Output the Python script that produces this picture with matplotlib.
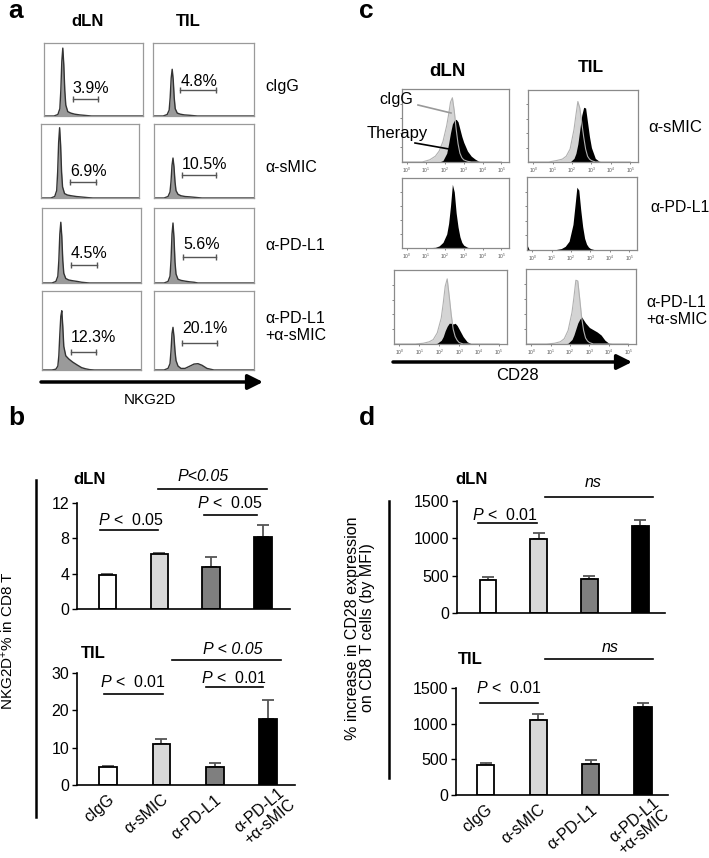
import numpy as np
import matplotlib
matplotlib.use('Agg')
import matplotlib.pyplot as plt
from matplotlib.patches import FancyArrowPatch
from matplotlib.transforms import ScaledTranslation

plt.rcParams['font.family'] = ['Liberation Sans', 'DejaVu Sans']
plt.rcParams['mathtext.fontset'] = 'custom'
plt.rcParams['mathtext.rm'] = 'Liberation Sans'
plt.rcParams['mathtext.it'] = 'Liberation Sans:italic'
plt.rcParams['mathtext.bf'] = 'Liberation Sans:bold'

W, H = 709, 858

# Panel a - NKG2D histograms (x in arbitrary intensity units, y in fraction of box)
NKG2D_X = [0.0, 0.10, 0.14, 0.16, 0.17, 0.18, 0.19, 0.20, 0.21, 0.22,
           0.24, 0.27, 0.31, 0.36, 0.40, 0.44, 0.48, 0.53, 0.60, 1.0]
a_dln_cigg = [0, 0, .02, .10, .35, .75, .93, .70, .35, .15,
              .06, .04, .025, .015, .01, .005, 0, 0, 0, 0]
a_dln_smic = [0, 0, .02, .10, .35, .75, .95, .72, .35, .15,
              .06, .04, .03, .02, .015, .01, .005, 0, 0, 0]
a_dln_pdl1 = [0, 0, .02, .09, .30, .65, .81, .62, .30, .13,
              .06, .04, .03, .02, .01, .005, 0, 0, 0, 0]
a_dln_combo = [0, 0, .01, .05, .18, .45, .68, .75, .55, .30,
               .18, .14, .10, .06, .03, .015, .005, 0, 0, 0]
a_til_cigg = [0, 0, .02, .08, .25, .52, .64, .50, .25, .10,
              .04, .025, .015, .01, .005, 0, 0, 0, 0, 0]
a_til_smic = [0, 0, .02, .08, .22, .44, .54, .42, .22, .10,
              .05, .03, .02, .015, .01, .005, 0, 0, 0, 0]
a_til_pdl1 = [0, 0, .02, .09, .30, .65, .80, .60, .28, .12,
              .05, .035, .025, .015, .01, 0, 0, 0, 0, 0]
a_til_combo = [0, 0, .02, .08, .24, .46, .54, .42, .24, .12,
               .05, .02, .02, .05, .075, .08, .06, .02, 0, 0]
a_pct_dln = ['3.9%', '6.9%', '4.5%', '12.3%']
a_pct_til = ['4.8%', '10.5%', '5.6%', '20.1%']
gate_dln_lo = [0.29, 0.30, 0.29, 0.29]
gate_dln_hi = [0.55, 0.56, 0.56, 0.55]
gate_til_lo = [0.27, 0.28, 0.29, 0.28]
gate_til_hi = [0.62, 0.62, 0.62, 0.63]

# Panel c - CD28 histograms (x in log10 fluorescence)
CD28_X = [-0.25, -0.15, 0.0, 0.8, 1.2, 1.5, 1.7, 1.9, 2.1, 2.2, 2.3, 2.4, 2.5,
          2.6, 2.7, 2.8, 2.9, 3.0, 3.2, 3.4, 3.6, 3.8, 4.0, 4.5, 5.0]
c_dln_smic_cigg = [0, 0, 0, 0, .03, .08, .15, .28, .50, .65, .82, .88, .70,
                   .45, .25, .12, .06, .03, .01, 0, 0, 0, 0, 0, 0]
c_dln_smic_tx = [0, 0, 0, 0, 0, 0, 0, .02, .12, .25, .40, .52, .57,
                 .585, .55, .45, .35, .27, .15, .08, .04, .01, 0, 0, 0]
c_til_smic_cigg = [0, 0, 0, 0, .02, .04, .08, .18, .45, .65, .84, .75, .55,
                   .35, .18, .08, .04, .02, 0, 0, 0, 0, 0, 0, 0]
c_til_smic_tx = [0, 0, 0, 0, 0, 0, 0, 0, .05, .12, .25, .45, .65,
                 .76, .75, .55, .35, .20, .05, .01, 0, 0, 0, 0, 0]
c_dln_pdl1_tx = [0, 0, 0, 0, .005, .01, .03, .08, .20, .35, .60, .91, .80,
                 .50, .30, .16, .08, .04, .01, 0, 0, 0, 0, 0, 0]
c_til_pdl1_tx = [.06, 0, 0, 0, .005, .02, .05, .12, .35, .60, .86, .82, .55,
                 .32, .16, .08, .04, .02, .005, 0, 0, 0, 0, 0, 0]
c_dln_combo_cigg = [0, 0, 0, 0, .01, .03, .06, .15, .35, .55, .78, .88, .65,
                    .40, .20, .10, .05, .02, 0, 0, 0, 0, 0, 0, 0]
c_dln_combo_tx = [0, 0, 0, 0, 0, 0, 0, .01, .05, .10, .18, .24, .28,
                  .28, .27, .28, .25, .20, .10, .03, .005, 0, 0, 0, 0]
c_til_combo_cigg = [0, 0, 0, 0, .01, .03, .07, .18, .42, .62, .85, .84, .60,
                    .35, .18, .08, .04, .02, 0, 0, 0, 0, 0, 0, 0]
c_til_combo_tx = [0, 0, 0, 0, 0, 0, 0, .01, .06, .12, .20, .28, .33,
                  .36, .32, .28, .25, .22, .19, .16, .12, .05, .01, 0, 0]

# Panels b and d - bar charts
groups = ['cIgG', 'α-sMIC', 'α-PD-L1', 'α-PD-L1\n+α-sMIC']
nkg2d_dln_mean = [3.8, 6.2, 4.8, 8.1]
nkg2d_dln_err = [0.2, 0.12, 1.1, 1.45]
nkg2d_til_mean = [4.8, 11.0, 4.9, 17.6]
nkg2d_til_err = [0.35, 1.3, 0.9, 5.3]
cd28_dln_mean = [440, 995, 450, 1160]
cd28_dln_err = [40, 70, 45, 88]
cd28_til_mean = [420, 1050, 432, 1240]
cd28_til_err = [30, 80, 65, 45]
bar_colors = ['white', '#d8d8d8', '#7f7f7f', 'black']

FS = 11.5  # text size used in the bar chart panels


def px(x0, y0, x1, y1):
    """ Convert a pixel box (top-left origin) to figure fractions. """
    return [x0 / W, 1 - y1 / H, (x1 - x0) / W, (y1 - y0) / H]


fig = plt.figure(figsize=(W / 100, H / 100), dpi=100)

# Overlay axes in pixel coordinates for free labels, arrows and lines
ov = fig.add_axes([0, 0, 1, 1])
ov.set_xlim(0, W)
ov.set_ylim(H, 0)
ov.axis('off')
ov.set_zorder(10)


def arrow(x0, x1, y):
    ov.add_patch(FancyArrowPatch(
        (x0, y), (x1, y), arrowstyle='-|>,head_length=9,head_width=4.5',
        mutation_scale=1, lw=2.5, color='black', shrinkA=0, shrinkB=0))


# ---------------- panel a ----------------
ov.text(16, 11, 'a', fontsize=19, fontweight='bold', ha='center', va='center')
ov.text(88, 21, 'dLN', fontsize=12, fontweight='bold', ha='center', va='center')
ov.text(188, 21, 'TIL', fontsize=12, fontweight='bold', ha='center', va='center')

a_boxes_dln = [(44, 43, 143, 116), (41, 124, 139, 198),
               (42, 208, 141, 283), (42, 291, 141, 370)]
a_boxes_til = [(153, 43, 254, 116), (154, 124, 254, 198),
               (154, 208, 254, 283), (154, 291, 254, 370)]
gate_y_dln = [0.23, 0.22, 0.24, 0.23]
gate_y_til = [0.36, 0.31, 0.35, 0.34]
lab_y_dln = [0.38, 0.36, 0.39, 0.41]
lab_y_til = [0.47, 0.45, 0.51, 0.52]


def nkg2d_hist(box, ys, lo, hi, gy, ly, pct):
    ax = fig.add_axes(px(*box))
    ax.fill_between(NKG2D_X, ys, color='#9a9a9a', lw=0)
    ax.plot(NKG2D_X, ys, color='#333333', lw=1)
    ax.plot([lo, hi], [gy, gy], color='#555555', lw=1, marker='|',
            markersize=4, markeredgewidth=1)
    ax.text(lo, ly, pct, fontsize=11.5, ha='left', va='center')
    ax.set_xlim(0, 1)
    ax.set_ylim(0, 1)
    ax.set_xticks([])
    ax.set_yticks([])
    for s in ax.spines.values():
        s.set_color('#9a9a9a')
        s.set_linewidth(0.9)


dln_curves = [a_dln_cigg, a_dln_smic, a_dln_pdl1, a_dln_combo]
til_curves = [a_til_cigg, a_til_smic, a_til_pdl1, a_til_combo]
for i in range(4):
    nkg2d_hist(a_boxes_dln[i], dln_curves[i], gate_dln_lo[i], gate_dln_hi[i],
               gate_y_dln[i], lab_y_dln[i], a_pct_dln[i])
    nkg2d_hist(a_boxes_til[i], til_curves[i], gate_til_lo[i], gate_til_hi[i],
               gate_y_til[i], lab_y_til[i], a_pct_til[i])

ov.text(265, 87, 'cIgG', fontsize=11.5, ha='left', va='center')
ov.text(265, 168, 'α-sMIC', fontsize=11.5, ha='left', va='center')
ov.text(265, 245, 'α-PD-L1', fontsize=11.5, ha='left', va='center')
ov.text(265, 327, 'α-PD-L1\n+α-sMIC', fontsize=11.5, ha='left', va='center',
        linespacing=1.1)
arrow(41, 263, 382)
ov.text(150, 400, 'NKG2D', fontsize=11, ha='center', va='center')

# ---------------- panel c ----------------
ov.text(366, 11, 'c', fontsize=19, fontweight='bold', ha='center', va='center')
ov.text(447, 72, 'dLN', fontsize=13.5, fontweight='bold', ha='center', va='center')
ov.text(591, 68, 'TIL', fontsize=12.5, fontweight='bold', ha='center', va='center')

c_boxes_dln = [(402, 89, 509, 162), (402, 178, 509, 248), (394, 270, 507, 344)]
c_boxes_til = [(528, 90, 638, 162), (527, 177, 637, 250), (526, 269, 636, 344)]


def cd28_hist(box, tx, ctrl=None):
    ax = fig.add_axes(px(*box))
    if ctrl is not None:
        ax.fill_between(CD28_X, ctrl, color='#d4d4d4', lw=0)
        ax.plot(CD28_X, ctrl, color='#b0b0b0', lw=0.8)
    ax.fill_between(CD28_X, tx, color='black', lw=0)
    ax.set_xlim(-0.27, 5.4)
    ax.set_ylim(0, 1)
    ax.set_xticks(range(6))
    ax.set_xticklabels(['$10^{%d}$' % k for k in range(6)], fontsize=3.5,
                       color='#333333')
    ax.set_yticks([0.2, 0.4, 0.6, 0.8])
    ax.set_yticklabels([])
    ax.tick_params(length=1.5, width=0.5, pad=1.5, colors='#555555')
    for s in ax.spines.values():
        s.set_color('#8a8a8a')
        s.set_linewidth(0.9)


cd28_hist(c_boxes_dln[0], c_dln_smic_tx, c_dln_smic_cigg)
cd28_hist(c_boxes_til[0], c_til_smic_tx, c_til_smic_cigg)
cd28_hist(c_boxes_dln[1], c_dln_pdl1_tx)
cd28_hist(c_boxes_til[1], c_til_pdl1_tx)
cd28_hist(c_boxes_dln[2], c_dln_combo_tx, c_dln_combo_cigg)
cd28_hist(c_boxes_til[2], c_til_combo_tx, c_til_combo_cigg)

# legend pointers
ov.text(379, 104, 'cIgG', fontsize=11.5, ha='left', va='baseline')
ov.plot([418, 451], [105, 113], color='#999999', lw=1.2)
ov.text(367, 138, 'Therapy', fontsize=12, ha='left', va='baseline')
ov.plot([415, 449], [143, 149], color='black', lw=1.2)

ov.text(648, 128, 'α-sMIC', fontsize=12, ha='left', va='center')
ov.text(650, 208, 'α-PD-L1', fontsize=11.3, ha='left', va='center')
ov.text(646, 311, 'α-PD-L1\n+α-sMIC', fontsize=11.5, ha='left', va='center',
        linespacing=1.1)
arrow(393, 632, 362)
ov.text(517, 376, 'CD28', fontsize=12, ha='center', va='center')


# ---------------- panels b and d ----------------
def bar_panel(box, xlim, means, errs, ylim, yticks, sigs, title, title_xy,
              xlabels):
    ax = fig.add_axes(px(*box))
    x = np.arange(len(groups))
    ax.errorbar(x, means, yerr=[np.zeros(len(x)), errs], fmt='none',
                ecolor='#555555', elinewidth=1.3, capsize=4.5, capthick=1.3,
                zorder=1)
    ax.bar(x, means, width=0.33, color=bar_colors, edgecolor='black',
           linewidth=1.3, zorder=2)
    ax.set_xlim(*xlim)
    ax.set_ylim(*ylim)
    ax.set_yticks(yticks)
    ax.set_yticklabels([str(t) for t in yticks], fontsize=FS)
    ax.spines['top'].set_visible(False)
    ax.spines['right'].set_visible(False)
    ax.spines['left'].set_linewidth(1.2)
    ax.spines['bottom'].set_linewidth(1.2)
    ax.tick_params(axis='y', length=3.5, width=1, pad=2)
    ax.tick_params(axis='x', length=0)
    ax.set_xticks(x)
    if xlabels:
        labs = ax.set_xticklabels(groups, fontsize=FS, rotation=40, ha='right',
                                  va='top', rotation_mode='anchor',
                                  multialignment='center', linespacing=1.0)
        ax.tick_params(axis='x', pad=5)
        # two-line label sits a little higher and to the right
        labs[-1].set_transform(labs[-1].get_transform() +
                               ScaledTranslation(0.10, 0.07,
                                                 fig.dpi_scale_trans))
    else:
        ax.set_xticklabels([])
    ax.patch.set_alpha(0)

    # significance bars
    for x0, x1, yl, label, tx, ty, italic in sigs:
        ax.plot([x0, x1], [yl, yl], color='black', lw=1.2, clip_on=False)
        ax.text(tx, ty, label, fontsize=FS, ha='center', va='center',
                style='italic' if italic else 'normal')
    ov.text(title_xy[0], title_xy[1], title, fontsize=12, fontweight='bold',
            ha='center', va='center')
    return ax


ov.text(16, 418, 'b', fontsize=19, fontweight='bold', ha='center', va='center')
ov.plot([36, 36], [480, 817], color='black', lw=1.8)
ov.text(8, 641, 'NKG2D$^{+}$% in CD8 T', fontsize=11, rotation=90,
        ha='center', va='center')

sig_b_dln = [(-0.13, 0.98, 8.95, '$P$ <  0.05', 0.46, 10.1, False),
             (0.98, 3.08, 13.6, 'P<0.05', 1.85, 14.95, True),
             (1.87, 2.88, 10.6, '$P$ <  0.05', 2.37, 12.0, False)]
bar_panel((77, 503, 290, 609), (-0.58, 3.52), nkg2d_dln_mean, nkg2d_dln_err,
          (0, 12), [0, 4, 8, 12], sig_b_dln, 'dLN', (90, 480), False)

sig_b_til = [(-0.08, 1.03, 24.3, '$P$ <  0.01', 0.47, 27.5, False),
             (1.2, 3.23, 33.6, 'P < 0.05', 2.33, 36.4, True),
             (1.84, 2.91, 26.2, '$P$ <  0.01', 2.35, 28.6, False)]
bar_panel((77, 673, 295, 785), (-0.58, 3.5), nkg2d_til_mean, nkg2d_til_err,
          (0, 30), [0, 10, 20, 30], sig_b_til, 'TIL', (93, 653), True)

ov.text(367, 418, 'd', fontsize=19, fontweight='bold', ha='center', va='center')
ov.plot([389, 389], [501, 778], color='black', lw=1.8)
ov.text(360, 628, '% increase in CD28 expression\non CD8 T cells (by MFI)',
        fontsize=11.5, rotation=90, ha='center', va='center', linespacing=1.05)

sig_d_dln = [(-0.2, 0.97, 1205, '$P$ <  0.01', 0.34, 1312, False),
             (1.12, 3.25, 1553, 'ns', 2.07, 1754, True)]
bar_panel((457, 501, 665, 613), (-0.61, 3.49), cd28_dln_mean, cd28_dln_err,
          (0, 1500), [0, 500, 1000, 1500], sig_d_dln, 'dLN', (472, 479), False)

sig_d_til = [(-0.11, 0.99, 1290, '$P$ <  0.01', 0.44, 1500, False),
             (1.13, 3.19, 1907, 'ns', 2.37, 2062, True)]
bar_panel((456, 688, 668, 795), (-0.57, 3.48), cd28_til_mean, cd28_til_err,
          (0, 1500), [0, 500, 1000, 1500], sig_d_til, 'TIL', (470, 660), True)

fig.savefig('out.png', dpi=100)
